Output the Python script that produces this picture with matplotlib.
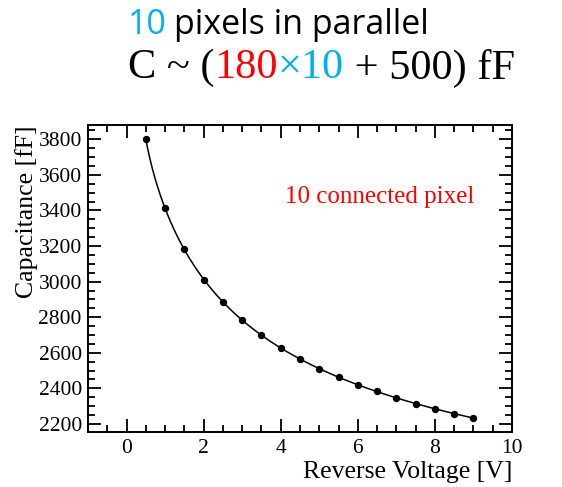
import numpy as np
import matplotlib
matplotlib.use("Agg")
import matplotlib.pyplot as plt
from matplotlib.ticker import MultipleLocator

# Reverse bias scan of 10 connected pixels
voltage = [0.5, 1.0, 1.5, 2.0, 2.5, 3.0, 3.5, 4.0, 4.5, 5.0, 5.5, 6.0,
           6.5, 7.0, 7.5, 8.0, 8.5, 9.0]
capacitance = [3800, 3412, 3181, 3011, 2885, 2784, 2700, 2628, 2565, 2510,
               2464, 2420, 2383, 2347, 2314, 2286, 2258, 2232]

x_ticks = [0, 2, 4, 6, 8, 10]
y_ticks = [2200, 2400, 2600, 2800, 3000, 3200, 3400, 3600, 3800]

serif = ["Liberation Serif", "DejaVu Serif"]

fig = plt.figure(figsize=(5.62, 4.87), dpi=100)
W, H = 562, 487
ax = fig.add_axes([88 / W, 1 - 432 / H, (512 - 88) / W, (432 - 125) / H])

# smooth fit curve: cubic polynomial in 1/sqrt(V)
v = np.asarray(voltage)
c = np.asarray(capacitance, dtype=float)
u = 1 / np.sqrt(v)
coef = np.polyfit(u, c, 3)
vv = np.linspace(v.min(), v.max(), 400)
ax.plot(vv, np.polyval(coef, 1 / np.sqrt(vv)), color="black", lw=1.1)
ax.plot(v, c, "o", color="black", ms=4.3)

ax.set_xlim(-1, 10)
ax.set_ylim(2155, 3880)
ax.set_xticks(x_ticks)
ax.set_yticks(y_ticks)
ax.xaxis.set_minor_locator(MultipleLocator(0.5))
ax.yaxis.set_minor_locator(MultipleLocator(50))
ax.tick_params(which="both", direction="in", top=True, right=True,
               width=1.3, labelsize=15.5)
ax.tick_params(which="major", length=9.5)
ax.tick_params(which="minor", length=5)
ax.tick_params(axis="x", pad=5)
ax.tick_params(axis="y", pad=4.5)
for lab in ax.get_xticklabels() + ax.get_yticklabels():
    lab.set_fontfamily(serif)
for s in ax.spines.values():
    s.set_linewidth(1.4)

ax.set_xlabel("Reverse Voltage [V]", family=serif, fontsize=18.5, loc="right",
              labelpad=2)
ax.set_ylabel("Capacitance [fF]", family=serif, fontsize=18.5, loc="top",
              labelpad=0)

ax.text(380 / W, 1 - 197 / H, "10 connected pixel", transform=fig.transFigure,
        color="red", family=serif, fontsize=18, ha="center", va="center")

# heading lines
cyan = "#00B0F0"
t1 = fig.text(128 / W, 1 - 25 / H, "10", color=cyan, family="Open Sans",
              fontsize=24.5, va="center")
fig.canvas.draw()
r = fig.canvas.get_renderer()
bb = t1.get_window_extent(r)
fig.text((bb.x1) / W + 0.012, 1 - 25 / H, "pixels in parallel", color="black",
         family="Open Sans", fontsize=24.5, va="center")

parts = [("C ~ (", "black"), ("180", "red"), ("×10", cyan),
         (" + 500) fF", "black")]
x = 128
for txt, col in parts:
    t = fig.text(x / W, 1 - 68 / H, txt, color=col, family=serif,
                 fontsize=30.5, va="center")
    fig.canvas.draw()
    x = t.get_window_extent(fig.canvas.get_renderer()).x1

fig.savefig("out.png", dpi=100)
